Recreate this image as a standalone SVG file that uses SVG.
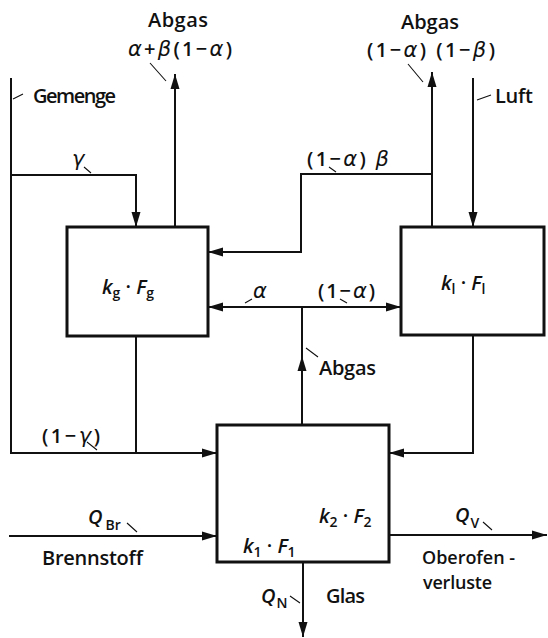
<svg xmlns="http://www.w3.org/2000/svg" width="548" height="638" viewBox="0 0 548 638">
<defs>
<marker id="ah" markerUnits="userSpaceOnUse" markerWidth="16" markerHeight="10" refX="15" refY="5" orient="auto">
<path d="M0,0.5 L15,5 L0,9.5 Z" fill="#111"/>
</marker>
<style>
.ln{fill:none;stroke:#111;stroke-width:2}
.bx{fill:#fff;stroke:#111;stroke-width:3}
.tk{fill:none;stroke:#111;stroke-width:1.1}
text{font-family:"Open Sans","DejaVu Sans",sans-serif;font-size:20px;font-weight:600;fill:#111}
.g{font-style:italic;font-family:"DejaVu Sans",sans-serif;font-weight:normal;font-size:21px}
.i{font-style:italic}
.s{font-size:14px}
.sm{font-size:18px}
</style>
</defs>
<rect width="548" height="638" fill="#fff"/>
<g id="connectors">
<path class="ln" d="M11,78 V453 H217" marker-end="url(#ah)"/>
<path class="ln" d="M11,175 H136 V227" marker-end="url(#ah)"/>
<path class="ln" d="M136,336 V453"/>
<path class="ln" d="M175,227 V74" marker-end="url(#ah)"/>
<path class="ln" d="M432,227 V72" marker-end="url(#ah)"/>
<path class="ln" d="M432,174 H301 V252 H208" marker-end="url(#ah)"/>
<path class="ln" d="M473,78 V227" marker-end="url(#ah)"/>
<path class="ln" d="M302,425 V356" marker-end="url(#ah)"/>
<path class="ln" d="M302,360 V307"/>
<path class="ln" d="M302,307 H208" marker-end="url(#ah)"/>
<path class="ln" d="M302,307 H401" marker-end="url(#ah)"/>
<path class="ln" d="M473,335 V453 H389" marker-end="url(#ah)"/>
<path class="ln" d="M9,536 H217" marker-end="url(#ah)"/>
<path class="ln" d="M389,535 H547" marker-end="url(#ah)"/>
<path class="ln" d="M303,562 V637" marker-end="url(#ah)"/>
<path class="tk" d="M13,99 L23,94 M84,167 L91,173 M150,63 L166,81 M408,64 L423,82 M477,100 L491,95 M329,167 L336,172 M245,303 L252,299 M340,299 L347,303 M306,348 L318,357 M87,442 L97,450 M127,523 L137,532 M377,528 L387,533 M297,555 L303,558 M290,596 L300,603 M483,522 L492,530"/>
</g>
<g id="box-g">
<rect class="bx" x="67" y="227" width="141" height="109"/>
<text x="102" y="294"><tspan class="i">k</tspan><tspan class="s" dy="4">g</tspan><tspan dy="-4"> · </tspan><tspan class="i">F</tspan><tspan class="s" dy="4">g</tspan></text>
</g>
<g id="box-l">
<rect class="bx" x="401" y="227" width="143" height="108"/>
<text x="441" y="290"><tspan class="i">k</tspan><tspan class="s" dy="4">l</tspan><tspan dy="-4">   · </tspan><tspan class="i">F</tspan><tspan class="s" dy="4">l</tspan></text>
</g>
<g id="box-main">
<rect class="bx" x="217" y="425" width="172" height="137"/>
<text x="319" y="523"><tspan class="i">k</tspan><tspan class="s" dy="4">2</tspan><tspan dy="-4"> · </tspan><tspan class="i">F</tspan><tspan class="s" dy="4">2</tspan></text>
<text x="243" y="553"><tspan class="i">k</tspan><tspan class="s" dy="4">1</tspan><tspan dy="-4"> · </tspan><tspan class="i">F</tspan><tspan class="s" dy="4">1</tspan></text>
</g>
<g id="labels">
<text x="148" y="27" textLength="60" lengthAdjust="spacing">Abgas</text>
<text x="128" y="56" textLength="104" lengthAdjust="spacing"><tspan class="g">α</tspan>+<tspan class="g">β</tspan>(1−<tspan class="g">α</tspan>)</text>
<text x="33" y="103" textLength="83" lengthAdjust="spacing">Gemenge</text>
<text x="72" y="166" class="g">γ</text>
<text x="401" y="29" textLength="58" lengthAdjust="spacing">Abgas</text>
<text x="367" y="57" textLength="128" lengthAdjust="spacing">(1−<tspan class="g">α</tspan>) (1−<tspan class="g">β</tspan>)</text>
<text x="495" y="103" textLength="38" lengthAdjust="spacing">Luft</text>
<text x="307" y="166" textLength="82" lengthAdjust="spacing">(1−<tspan class="g">α</tspan>) <tspan class="g">β</tspan></text>
<text x="253" y="298" class="g">α</text>
<text x="318" y="298" textLength="57" lengthAdjust="spacing">(1−<tspan class="g">α</tspan>)</text>
<text x="319" y="375" textLength="57" lengthAdjust="spacing">Abgas</text>
<text x="42" y="443" textLength="58" lengthAdjust="spacing">(1−<tspan class="g">γ</tspan>)</text>
<text x="88" y="524"><tspan class="i">Q</tspan><tspan class="s" dx="3" dy="6">Br</tspan></text>
<text x="42" y="565" textLength="101" lengthAdjust="spacing">Brennstoff</text>
<text x="455" y="522"><tspan class="i">Q</tspan><tspan class="s" dx="1" dy="6">V</tspan></text>
<text class="sm" x="422" y="564" textLength="93" lengthAdjust="spacing">Oberofen -</text>
<text class="sm" x="423" y="589" textLength="69" lengthAdjust="spacing">verluste</text>
<text x="261" y="603"><tspan class="i">Q</tspan><tspan class="s" dx="1" dy="5">N</tspan></text>
<text x="326" y="603" textLength="39" lengthAdjust="spacing">Glas</text>
</g>
</svg>
